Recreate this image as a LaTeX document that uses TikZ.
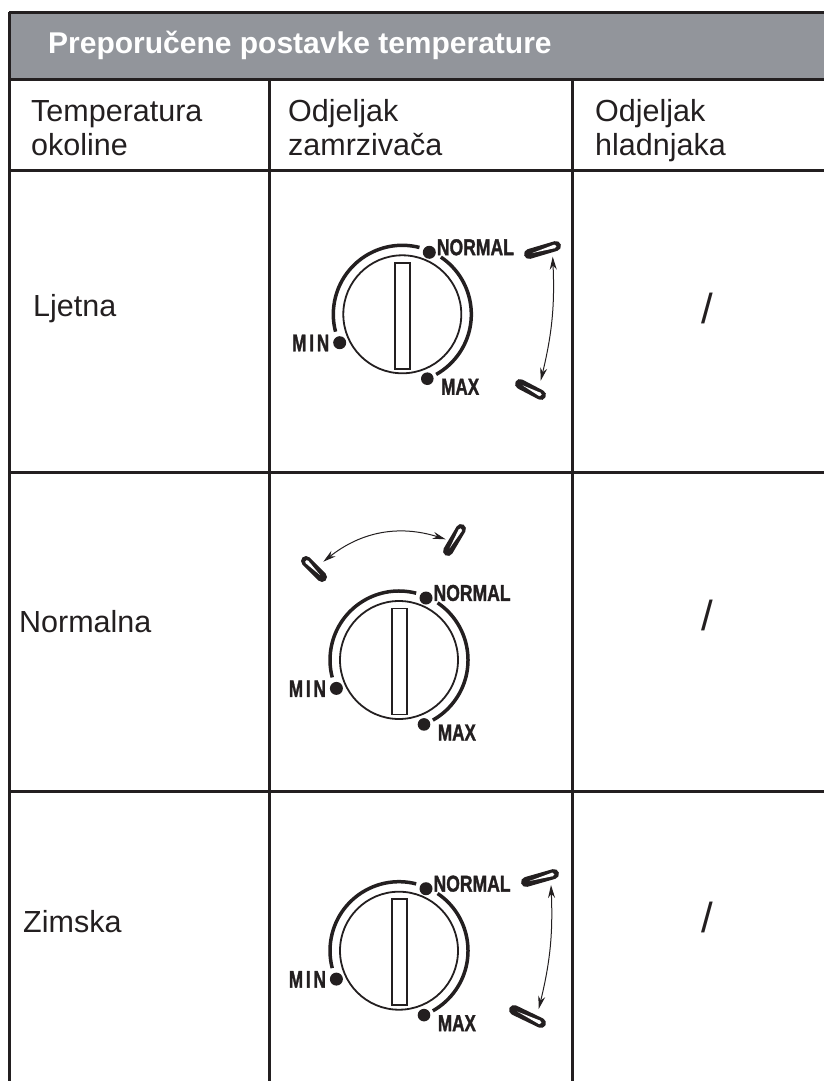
\documentclass[tikz,border=0pt]{standalone}
\usepackage{fontspec}
\setmainfont{Liberation Sans}
\newfontfamily\dialfont[BoldFeatures={RawFeature={embolden=1.6}}]{Liberation Sans}
\usetikzlibrary{arrows.meta,calc}
\definecolor{band}{HTML}{92959B}
\definecolor{ink}{HTML}{231F20}
\tikzset{
  rule/.style={draw=ink,line width=3pt},
  body/.style={anchor=base west,inner sep=0pt,font=\fontsize{30.5}{34}\selectfont,text=ink,align=left},
  dialtxt/.style={inner sep=0pt,text=ink},
  slash/.style={inner sep=0pt,text=ink,font=\fontsize{42}{42}\selectfont},
  dialring/.style={draw=ink,line width=1.8pt},
  dialarc/.style={draw=ink,line width=3.5pt},
  swing/.style={draw=ink,line width=1pt,{Stealth[length=13pt,width=7pt]}-{Stealth[length=13pt,width=7pt]}},
}
% lever from tail #1 to tip #2
\newcommand{\lever}[2]{%
  \draw[ink,line width=10pt,line cap=round] #1 -- #2;
  \path #1 coordinate (lt) #2 coordinate (lh);
  \fill[white] ($(lt)!0.12!(lh)$) -- ($(lt)!0.95!(lh)!1.8pt!90:(lh)$) -- ($(lt)!0.95!(lh)!1.8pt!-90:(lh)$) -- cycle;
  \fill[white] ($(lt)!0.95!(lh)$) circle (1.8);
}
\newcommand{\dial}[3]{%
  \begin{scope}[shift={(#1,#2)}]
    \node[circle,minimum size=118pt,inner sep=0pt,dialring] (#3ring) at (0,0) {};
    \node[rectangle,minimum width=15pt,minimum height=106pt,inner sep=0pt,draw=ink,line width=1.5pt] (#3bar) at (0.3,1.5) {};
    \draw[dialarc] (50,-195/3) ++(-33.33,0) ++(0,0) (-75.6:69) arc[start angle=-75.6,delta angle=-119,radius=69];
    \draw[dialarc] (-56:69) arc[start angle=-56,delta angle=116.6,radius=69];
    \fill[ink] (27,-62) circle (6.5);
    \fill[ink] (-62.6,28.4) circle (6.5);
    \fill[ink] (25,64.4) circle (6.3);
    \node[dialtxt,anchor=west] (#3n) at (34.4,-67) {\resizebox{77pt}{16pt}{\dialfont\bfseries NORMAL}};
    \node[dialtxt,anchor=west] (#3m) at (-110.3,28.7) {\resizebox{37pt}{16.5pt}{\dialfont\bfseries M\,I\,N}};
    \node[dialtxt,anchor=west] (#3x) at (38.7,72.5) {\resizebox{38pt}{16pt}{\dialfont\bfseries MAX}};
  \end{scope}}
\begin{document}
\begin{tikzpicture}[x=1pt,y=-1pt]
\useasboundingbox (0,0) rectangle (824,1081);
\fill[band] (8,12) rectangle (824,79);
\coordinate (tl) at (9,12.5);
\coordinate (tr) at (824,12.5);
\coordinate (bl) at (9,1081);
\coordinate (h1) at (9,79);
\coordinate (h1r) at (824,79);
\coordinate (r1) at (9,170);
\coordinate (r1r) at (824,170);
\coordinate (r2) at (9,472);
\coordinate (r2r) at (824,472);
\coordinate (r3) at (9,791.7);
\coordinate (r3r) at (824,791.7);
\coordinate (a1) at (269.5,79);
\coordinate (a2) at (269.5,1081);
\coordinate (b1) at (572.5,79);
\coordinate (b2) at (572.5,1081);
\draw[draw=ink,line width=3pt] (tl) -- (tr);
\draw[rule] (tl) -- (bl);
\draw[rule] (h1) -- (h1r) (r1) -- (r1r) (r2) -- (r2r) (r3) -- (r3r);
\draw[rule] (a1) -- (a2) (b1) -- (b2);
\node[anchor=base west,inner sep=0pt,text=white,font=\bfseries\fontsize{30}{34}\selectfont] (title) at (48,54) {Preporučene postavke temperature};
\node[body] (c1a) at (31,121) {Temperatura};
\node[body] (c1b) at (31,155) {okoline};
\node[body] (c2a) at (288,121) {Odjeljak};
\node[body] (c2b) at (288,155) {zamrzivača};
\node[body] (c3a) at (595,121) {Odjeljak};
\node[body] (c3b) at (595,155) {hladnjaka};
\node[body] (rowA) at (33,316) {Ljetna};
\node[body] (rowB) at (19,632) {Normalna};
\node[body] (rowC) at (23,932) {Zimska};
\node[slash] (sA) at (707,308) {/};
\node[slash] (sB) at (707,615) {/};
\node[slash] (sC) at (707,917) {/};
\dial{402.3}{314.3}{a}
\dial{399}{660}{b}
\dial{399}{950.7}{c}
\lever{(529,254)}{(556,246)}
\lever{(520,384)}{(541,395)}
\coordinate (aS) at (552.7,256.7);
\coordinate (aE) at (540.7,380.7);
\draw[swing] (aS) to[bend left=8] (aE);
\lever{(322,577)}{(306,561)}
\lever{(448,551)}{(461,529)}
\coordinate (bS) at (323.3,561.7);
\coordinate (bE) at (445.7,539.3);
\draw[swing] (bS) to[bend left=28] (bE);
\lever{(526,882)}{(554,874)}
\lever{(514,1010)}{(541,1023)}
\coordinate (cS) at (551,885);
\coordinate (cE) at (538.7,1009);
\draw[swing] (cS) to[bend left=8] (cE);
\end{tikzpicture}
\end{document}
